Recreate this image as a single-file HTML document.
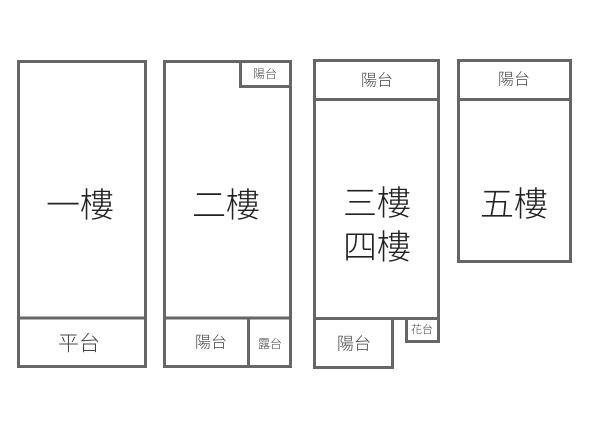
<!DOCTYPE html>
<html><head><meta charset="utf-8"><style>
html,body{margin:0;padding:0;background:#fff;}
svg{display:block;}
text{font-family:"Liberation Sans","Noto Sans CJK TC",sans-serif;font-weight:300;fill:#222;text-anchor:middle;dominant-baseline:central;}
.s{fill:#444;}
</style></head><body>
<svg width="600" height="433" viewBox="0 0 600 433" xmlns="http://www.w3.org/2000/svg">
<g fill="none" stroke="#666" stroke-width="3">
<rect x="18.5" y="61.5" width="127" height="305"/>
<line x1="18.5" y1="318" x2="145.5" y2="318"/>
<rect x="164.5" y="61.5" width="126" height="305"/>
<polyline points="240.5,61.5 240.5,86.5 290.5,86.5"/>
<line x1="164.5" y1="318" x2="290.5" y2="318"/>
<line x1="248.5" y1="318" x2="248.5" y2="366.5"/>
<polyline points="314.5,318.5 314.5,60.5 438.5,60.5 438.5,341.5 406.5,341.5 406.5,318.5"/>
<line x1="314.5" y1="99.5" x2="438.5" y2="99.5"/>
<line x1="314.5" y1="318.5" x2="438.5" y2="318.5"/>
<rect x="314.5" y="318.5" width="78" height="49"/>
<rect x="458.5" y="60.5" width="112" height="201"/>
<line x1="458.5" y1="99.5" x2="570.5" y2="99.5"/>
</g>
<text x="80" y="206" font-size="34">一樓</text>
<text x="79" y="344" font-size="21" class="s">平台</text>
<text x="226" y="206" font-size="34">二樓</text>
<text x="265" y="74" font-size="12" class="s">陽台</text>
<text x="211" y="343" font-size="16" class="s">陽台</text>
<text x="270" y="344" font-size="12" class="s">露台</text>
<text x="377" y="81" font-size="16" class="s">陽台</text>
<text x="377" y="204" font-size="34">三樓</text>
<text x="377" y="248" font-size="34">四樓</text>
<text x="354" y="344" font-size="17" class="s">陽台</text>
<text x="422" y="330" font-size="11" class="s">花台</text>
<text x="514" y="80" font-size="16" class="s">陽台</text>
<text x="514" y="205" font-size="34">五樓</text>
</svg>
</body></html>
